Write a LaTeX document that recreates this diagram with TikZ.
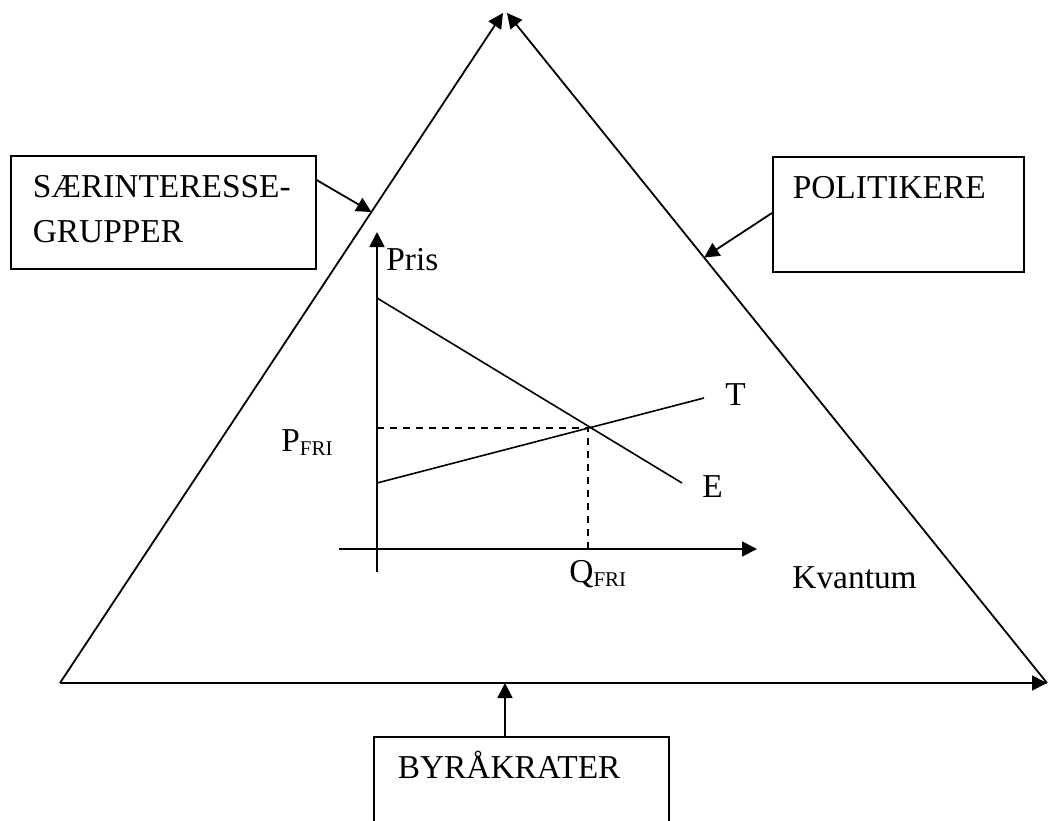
\documentclass[tikz,border=0pt]{standalone}
\usepackage{fontspec}
\setmainfont{Liberation Serif}
\usetikzlibrary{arrows.meta, calc}
\tikzstyle{actor} = [rectangle, draw=black, line width=0.8pt, align=left, inner ysep=0pt, anchor=north west]
\tikzstyle{arrow} = [line width=0.9pt, -{Triangle[length=7.5pt,width=7.5pt]}]
\tikzstyle{axis} = [line width=0.9pt, -{Triangle[length=7.5pt,width=7.5pt]}]
\tikzstyle{curve} = [line width=0.8pt]
\tikzstyle{guide} = [line width=0.8pt, dash pattern=on 3.5pt off 3pt]
\tikzstyle{lbl} = [anchor=base west, inner sep=0pt]
\newcommand{\fri}{\raisebox{-2pt}{\fontsize{10.5}{10.5}\selectfont FRI}}

\begin{document}
\begin{tikzpicture}[x=0.5pt, y=-0.5pt, font=\fontsize{16.7}{22.5}\selectfont]
			\useasboundingbox (0,0) rectangle (1050,820);
			% Trekant
			\coordinate (venstre) at (60,683);
			\coordinate (hoejre) at (1047,683);
			\coordinate (toppV) at (503,13);
			\coordinate (toppH) at (507,13);
			\draw [arrow] (venstre) -- (toppV);
			\draw [arrow] (hoejre) -- (toppH);
			\draw [arrow] (venstre) -- (hoejre);
			
			% Aktoerer
			\node (saer) [actor, text width=130.5pt, inner xsep=11pt, text height=21pt, text depth=35.5pt] at (10,155) {SÆRINTERESSE-\\GRUPPER};
			\node (politikere) [actor, text width=105.5pt, inner xsep=10pt, text height=21pt, text depth=36.5pt] at (772,156) {POLITIKERE};
			\node (byraakrater) [actor, text width=123.5pt, inner xsep=12pt, text height=21pt, text depth=26pt] at (373,736) {BYRÅKRATER};
			
			% Pile
			\coordinate (saerPil) at ($(venstre)!0.703!(toppV)$);
			\coordinate (politikerePil) at ($(hoejre)!0.635!(toppH)$);
			\coordinate (byraakraterStart) at ($(byraakrater.north west)+(132,0)$);
			\coordinate (byraakraterPil) at (byraakraterStart |- hoejre);
			\draw [arrow] ($(saer.north east)+(0,25)$) -- (saerPil);
			\draw [arrow] ($(politikere.north west)+(0,57)$) -- (politikerePil);
			\draw [arrow] (byraakraterStart) -- (byraakraterPil);
			
			% Udbud og efterspoergsel
			\coordinate (O) at (377,549);
			\coordinate (yBund) at (377,572);
			\coordinate (yTop) at (377,232);
			\coordinate (xStart) at (339,549);
			\coordinate (xSlut) at (757,549);
			\draw [axis] (yBund) -- (yTop);
			\draw [axis] (xStart) -- (xSlut);
			\coordinate (E0) at (377,298);
			\coordinate (E1) at (682,483);
			\coordinate (T0) at (377,483);
			\coordinate (T1) at (704,398);
			\coordinate (ligevaegt) at (588,428);
			\draw [curve] (E0) -- (E1);
			\draw [curve] (T0) -- (T1);
			\draw [guide] (ligevaegt -| O) -- (ligevaegt) -- (ligevaegt |- O);
			
			% Tekster
			\node (pris) [lbl] at (386,270) {Pris};
			\node (kvantum) [lbl] at (792,588) {Kvantum};
			\node (tLbl) [lbl] at (725,405) {T};
			\node (eLbl) [lbl] at (702,497) {E};
			\node (pFri) [lbl] at (281,451) {P\fri};
			\node (qFri) [lbl] at (569,582) {Q\fri};
		\end{tikzpicture}
\end{document}
